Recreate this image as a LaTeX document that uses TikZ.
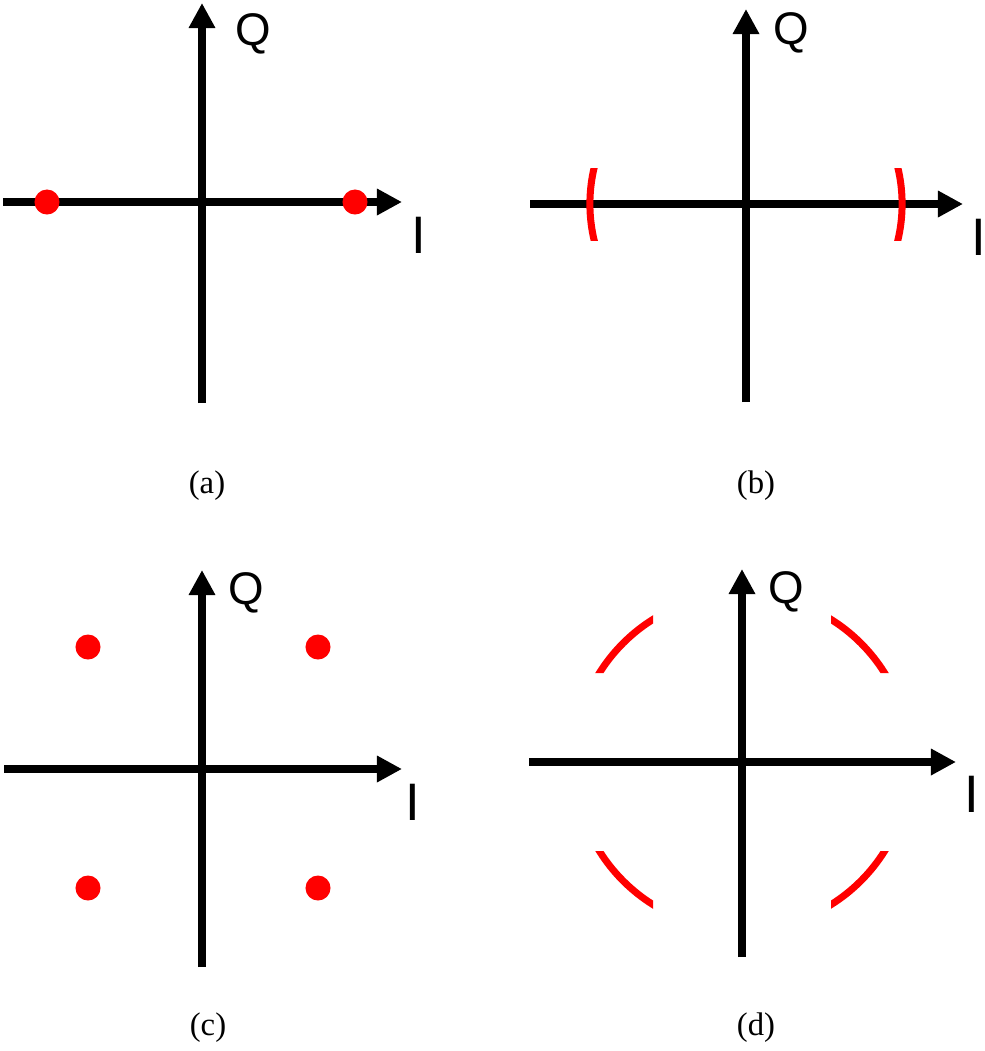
\documentclass[tikz,border=0pt]{standalone}
\usepackage{fontspec}
\setmainfont{Liberation Serif}
\newfontfamily\axisfont{Liberation Sans}
\usetikzlibrary{arrows.meta}

\begin{document}
\begin{tikzpicture}
  [
  x=0.01cm, y=-0.01cm,
  axis/.style={draw, line width=0.075cm, -{Triangle[length=0.25cm, width=0.25cm]}},
  symdot/.style={circle, fill=red, inner sep=0pt, minimum size=0.25cm},
  ring/.style={draw=red, line width=0.07cm},
  qlabel/.style={anchor=base west, inner sep=0pt, font=\axisfont\fontsize{13}{13}\selectfont},
  ilabel/.style={anchor=base, inner sep=0pt, font=\axisfont\fontsize{15}{15}\selectfont},
  caption/.style={inner sep=0pt, font=\fontsize{9.3}{10}\selectfont}
  ]
  \useasboundingbox (0,0) rectangle (985,1051);

  % (a) two points on the I axis
  \begin{scope}[shift={(202,202)}]
    \draw[axis] (0,201) -- (0,-199);
    \draw[axis] (-199,0) -- (200,0);
    \node[symdot] (a1) at (-155,0) {};
    \node[symdot] (a2) at (153,0) {};
    \node[qlabel] (qa) at (33,-157) {Q};
    \node[ilabel] (ia) at (217,51) {I};
  \end{scope}

  % (b) two short arcs
  \begin{scope}[shift={(746,204)}]
    \draw[axis] (0,198) -- (0,-195);
    \draw[axis] (-216,0) -- (217,0);
    \begin{scope}
      \clip (-200,-36) rectangle (200,36);
      \draw[ring] (0,0) circle [radius=0.156cm*10];
    \end{scope}
    \node[qlabel] (qb) at (27,-160) {Q};
    \node[ilabel] (ib) at (233,51) {I};
  \end{scope}

  % (c) four points
  \begin{scope}[shift={(202,769)}]
    \draw[axis] (0,198) -- (0,-199);
    \draw[axis] (-198,0) -- (200,0);
    \node[symdot] (c1) at (-114,-122) {};
    \node[symdot] (c2) at (116,-122) {};
    \node[symdot] (c3) at (-114,119) {};
    \node[symdot] (c4) at (116,119) {};
    \node[qlabel] (qc) at (26,-165) {Q};
    \node[ilabel] (ic) at (211,51) {I};
  \end{scope}

  % (d) four arcs
  \begin{scope}[shift={(742,762)}]
    \draw[axis] (0,195) -- (0,-193);
    \draw[axis] (-213,0) -- (214,0);
    \begin{scope}
      \clip (-89,-89) rectangle (-200,-200)
            (89,-89) rectangle (200,-200)
            (-89,89) rectangle (-200,200)
            (89,89) rectangle (200,200);
      \draw[ring] (0,0) circle [radius=1.68cm];
    \end{scope}
    \node[qlabel] (qd) at (26,-159) {Q};
    \node[ilabel] (id) at (230,50) {I};
  \end{scope}

  \node[caption] (capa) at (207,486) {(a)};
  \node[caption] (capb) at (756,486) {(b)};
  \node[caption] (capc) at (208,1028) {(c)};
  \node[caption] (capd) at (756,1028) {(d)};
\end{tikzpicture}
\end{document}
